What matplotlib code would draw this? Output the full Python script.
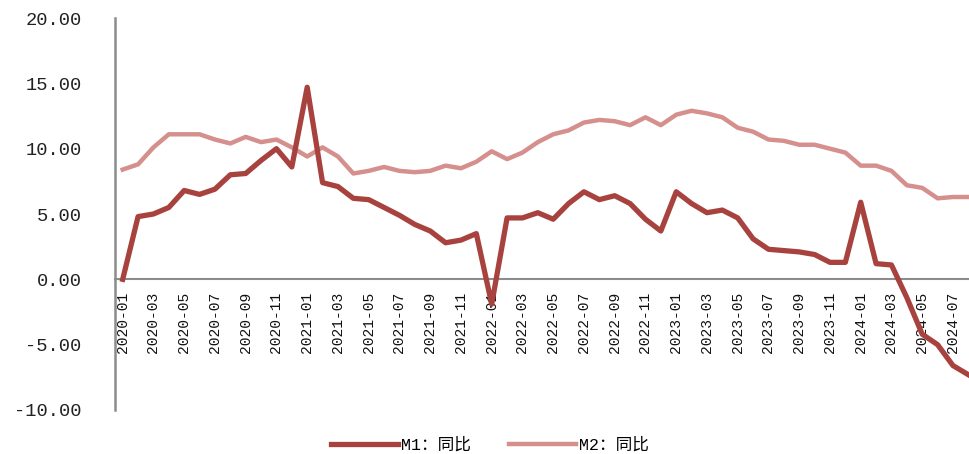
import matplotlib
matplotlib.use("Agg")
import matplotlib.pyplot as plt
import numpy as np

months = [f"{y}-{m:02d}" for y in range(2020, 2025) for m in range(1, 13)][:56]

m1 = [0.0, 4.8, 5.0, 5.5, 6.8, 6.5, 6.9, 8.0, 8.1, 9.1, 10.0, 8.6,
      14.7, 7.4, 7.1, 6.2, 6.1, 5.5, 4.9, 4.2, 3.7, 2.8, 3.0, 3.5,
      -1.9, 4.7, 4.7, 5.1, 4.6, 5.8, 6.7, 6.1, 6.4, 5.8, 4.6, 3.7,
      6.7, 5.8, 5.1, 5.3, 4.7, 3.1, 2.3, 2.2, 2.1, 1.9, 1.3, 1.3,
      5.9, 1.2, 1.1, -1.4, -4.2, -5.0, -6.6, -7.3]

m2 = [8.4, 8.8, 10.1, 11.1, 11.1, 11.1, 10.7, 10.4, 10.9, 10.5, 10.7, 10.1,
      9.4, 10.1, 9.4, 8.1, 8.3, 8.6, 8.3, 8.2, 8.3, 8.7, 8.5, 9.0,
      9.8, 9.2, 9.7, 10.5, 11.1, 11.4, 12.0, 12.2, 12.1, 11.8, 12.4, 11.8,
      12.6, 12.9, 12.7, 12.4, 11.6, 11.3, 10.7, 10.6, 10.3, 10.3, 10.0, 9.7,
      8.7, 8.7, 8.3, 7.2, 7.0, 6.2, 6.3, 6.3]

labels = ["M1：同比", "M2：同比"]
yticks = [-10, -5, 0, 5, 10, 15, 20]

fam = ["Liberation Mono", "Noto Sans CJK SC"]
plt.rcParams["font.family"] = fam

W, H = 970, 454
fig = plt.figure(figsize=(W / 100, H / 100), dpi=100)
ax = fig.add_axes([115 / W, 1 - 410 / H, (970 - 115) / W, (410 - 18) / H])

for s in ["top", "right"]:
    ax.spines[s].set_visible(False)
ax.spines["left"].set_color("#8c8c8c")
ax.spines["left"].set_linewidth(1.8)
ax.spines["bottom"].set_position(("data", 0))
ax.spines["bottom"].set_color("#8c8c8c")
ax.spines["bottom"].set_linewidth(1.5)

x = np.arange(len(months))
ax.plot(x, m1, color="#A8423F", lw=3.8, label=labels[0], solid_joinstyle="round", zorder=3)
ax.plot(x, m2, color="#D5908D", lw=3.2, label=labels[1], solid_joinstyle="round", zorder=2)

ax.set_ylim(-10, 20)
ax.set_xlim(-0.5, (970 - 123) / 15.37)

ax.set_yticks(yticks)
ax.set_yticklabels([f"{v:.2f}" for v in yticks], fontsize=13.5, color="#222222")
ax.tick_params(axis="y", length=0, pad=24)

ax.set_xticks(x[::2])
ax.set_xticklabels(months[::2], rotation=90, fontsize=10.5, color="#111111")
ax.tick_params(axis="x", length=0, pad=9)

leg = fig.legend(loc="center", bbox_to_anchor=(490 / W, 1 - 445 / H), ncol=2,
                 frameon=False, fontsize=12, handlelength=4.0, columnspacing=2.3,
                 handletextpad=0.2)

fig.savefig("out.png", dpi=100)
